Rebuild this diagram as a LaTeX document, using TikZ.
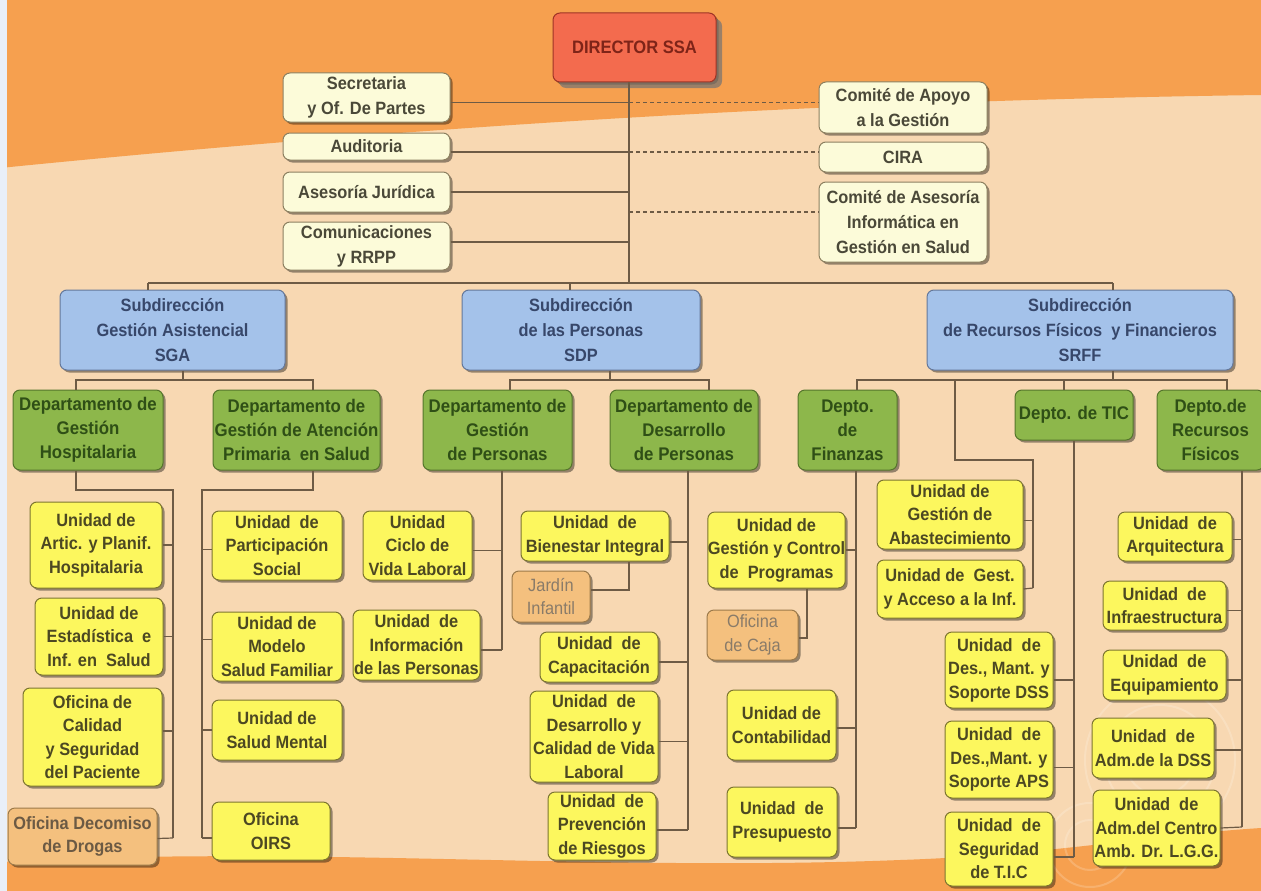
\documentclass[tikz,border=0pt]{standalone}
\usepackage{fontspec}
\setmainfont{Liberation Sans}[FakeStretch=0.92]
\usetikzlibrary{shadows}
\definecolor{bgpeach}{HTML}{F8D8B2}
\definecolor{bgorange}{HTML}{F6A04F}
\definecolor{stripblue}{HTML}{E9EFF8}
\definecolor{lineC}{HTML}{6E5B45}
\definecolor{staffF}{HTML}{FCFBD9}
\definecolor{staffD}{HTML}{8C8060}
\definecolor{staffT}{HTML}{4A4838}
\definecolor{dirF}{HTML}{F36B4E}
\definecolor{dirD}{HTML}{9E3426}
\definecolor{dirT}{HTML}{7E2418}
\definecolor{blueF}{HTML}{A4C2EA}
\definecolor{blueD}{HTML}{65789A}
\definecolor{blueT}{HTML}{37476A}
\definecolor{greenF}{HTML}{8DB74B}
\definecolor{greenD}{HTML}{55752C}
\definecolor{greenT}{HTML}{2F4F16}
\definecolor{yelF}{HTML}{FCF75E}
\definecolor{yelD}{HTML}{7C7530}
\definecolor{yelT}{HTML}{4C4822}
\definecolor{oraF}{HTML}{F4C07E}
\definecolor{oraD}{HTML}{9C7A4A}
\definecolor{oraT}{HTML}{6C5A44}
\tikzset{
  base/.style={rounded corners=7pt, draw, line width=1pt, align=center, inner sep=0pt,
    font=\bfseries\fontsize{17.8}{23.5}\selectfont,
    drop shadow={shadow xshift=2.5pt, shadow yshift=-2.5pt, fill=black, opacity=0.4}},
  staff/.style={base, fill=staffF, draw=staffD, text=staffT, font=\bfseries\fontsize{17.8}{25}\selectfont},
  director/.style={base, fill=dirF, draw=dirD, text=dirT, font=\bfseries\fontsize{18}{20}\selectfont,
    drop shadow={shadow xshift=6pt, shadow yshift=-6pt, fill=black!55, opacity=0.7}},
  subdir/.style={base, fill=blueF, draw=blueD, text=blueT, font=\bfseries\fontsize{17.8}{25}\selectfont},
  dept/.style={base, fill=greenF, draw=greenD, text=greenT, font=\bfseries\fontsize{18.3}{24}\selectfont},
  unit/.style={base, fill=yelF, draw=yelD, text=yelT},
  office/.style={base, fill=oraF, draw=oraD, text=oraT},
  officelight/.style={base, fill=oraF, draw=oraD, text=oraT!80, font=\fontsize{17.8}{23.5}\selectfont},
  conn/.style={draw=lineC, line width=1.2pt},
  dashconn/.style={draw=lineC, line width=1.2pt, dash pattern=on 4pt off 3pt}
}
\newcommand\orgbox[7]{%
  \pgfmathsetmacro\obxw{#5-#3}\pgfmathsetmacro\obxh{#6-#4}%
  \node[#1, minimum width=\obxw pt, minimum height=\obxh pt] (#2) at ({(#3+#5)/2},{(#4+#6)/2}) {#7};}
\begin{document}
\begin{tikzpicture}[x=1pt,y=-1pt]
\useasboundingbox (0,0) rectangle (1261,891);
% background
\fill[bgpeach] (0,0) rectangle (1261,891);
\fill[bgorange] (0,0) -- (1261,0) -- (1261,95) .. controls (900,100) and (500,118) .. (0,168) -- cycle;
\fill[bgorange] (0,862) .. controls (300,845) and (600,872) .. (900,860) .. controls (1050,855) and (1150,835) .. (1261,828) -- (1261,891) -- (0,891) -- cycle;
\fill[stripblue] (0,0) rectangle (7,891);
\begin{scope}[draw=white, opacity=0.18, line width=2pt]
  \draw (1160,760) circle (35);
  \draw (1160,760) circle (55);
  \draw (1160,760) circle (75);
  \draw (1090,845) circle (25);
  \draw (1090,845) circle (42);
\end{scope}

% nodes
\orgbox{director}{dir}{553}{13}{716}{82}{DIRECTOR SSA}
\orgbox{staff}{sec}{283}{73}{450}{122}{Secretaria\\y Of. De Partes}
\orgbox{staff}{aud}{283}{133}{450}{160}{Auditoria}
\orgbox{staff}{aju}{283}{172}{450}{212}{Asesoría Jurídica}
\orgbox{staff}{com}{283}{222}{450}{270}{Comunicaciones\\y RRPP}
\orgbox{staff}{cag}{819}{82}{987}{133}{Comité de Apoyo\\a la Gestión}
\orgbox{staff}{cira}{819}{142}{987}{172}{CIRA}
\orgbox{staff}{cai}{819}{182}{987}{262}{Comité de Asesoría\\Informática en\\Gestión en Salud}

\orgbox{subdir}{sga}{60}{290}{285}{370}{Subdirección\\Gestión Asistencial\\SGA}
\orgbox{subdir}{sdp}{462}{290}{700}{370}{Subdirección\\de las Personas\\SDP}
\orgbox{subdir}{srff}{927}{290}{1233}{370}{Subdirección\\de Recursos Físicos \ y Financieros\\SRFF}

\orgbox{dept}{dgh}{13}{390}{163}{470}{Departamento de\\Gestión\\Hospitalaria}
\orgbox{dept}{dap}{213}{390}{380}{470}{Departamento de\\Gestión de Atención\\Primaria \ en Salud}
\orgbox{dept}{dgp}{423}{390}{572}{470}{Departamento de\\Gestión\\de Personas}
\orgbox{dept}{ddp}{610}{390}{758}{470}{Departamento de\\Desarrollo\\de Personas}
\orgbox{dept}{dfi}{798}{390}{897}{470}{Depto.\\de\\Finanzas}
\orgbox{dept}{dtic}{1015}{390}{1133}{440}{Depto. de TIC}
\orgbox{dept}{drf}{1157}{390}{1264}{470}{Depto.de\\Recursos\\Físicos}

\orgbox{unit}{u1}{30}{502}{162}{588}{Unidad de\\Artic. y Planif.\\Hospitalaria}
\orgbox{unit}{u2}{35}{598}{163}{675}{Unidad de\\Estadística \ e\\Inf. en \ Salud}
\orgbox{unit}{u3}{23}{688}{162}{786}{Oficina de\\Calidad\\y Seguridad\\del Paciente}
\orgbox{office}{o1}{8}{808}{157}{865}{Oficina Decomiso\\de Drogas}
\orgbox{unit}{u4}{212}{511}{342}{580}{Unidad \ de\\Participación\\Social}
\orgbox{unit}{u5}{212}{612}{342}{681}{Unidad de\\Modelo\\Salud Familiar}
\orgbox{unit}{u6}{212}{700}{342}{760}{Unidad de\\Salud Mental}
\orgbox{unit}{u7}{212}{802}{330}{860}{Oficina\\OIRS}
\orgbox{unit}{u8}{363}{511}{472}{580}{Unidad\\Ciclo de\\Vida Laboral}
\orgbox{unit}{u9}{353}{610}{480}{680}{Unidad \ de\\Información\\de las Personas}
\orgbox{unit}{u10}{521}{511}{669}{561}{Unidad \ de\\Bienestar Integral}
\orgbox{officelight}{o2}{512}{571}{590}{622}{Jardín\\Infantil}
\orgbox{unit}{u11}{540}{632}{658}{682}{Unidad \ de\\Capacitación}
\orgbox{unit}{u12}{530}{691}{658}{782}{Unidad \ de\\Desarrollo y\\Calidad de Vida\\Laboral}
\orgbox{unit}{u13}{548}{792}{656}{860}{Unidad \ de\\Prevención\\de Riesgos}
\orgbox{unit}{u14}{708}{512}{845}{588}{Unidad de\\Gestión y Control\\de \ Programas}
\orgbox{officelight}{o3}{707}{610}{798}{660}{Oficina\\de Caja}
\orgbox{unit}{u15}{727}{690}{836}{760}{Unidad de\\Contabilidad}
\orgbox{unit}{u16}{727}{787}{837}{857}{Unidad \ de\\Presupuesto}
\orgbox{unit}{u17}{877}{480}{1023}{549}{Unidad de\\Gestión de\\Abastecimiento}
\orgbox{unit}{u18}{877}{560}{1023}{618}{Unidad de \ Gest.\\y Acceso a la Inf.}
\orgbox{unit}{u19}{945}{632}{1053}{708}{Unidad \ de\\Des., Mant. y\\Soporte DSS}
\orgbox{unit}{u20}{945}{721}{1053}{798}{Unidad \ de\\Des.,Mant. y\\Soporte APS}
\orgbox{unit}{u21}{945}{812}{1053}{886}{Unidad \ de\\Seguridad\\de T.I.C}
\orgbox{unit}{u22}{1118}{512}{1232}{561}{Unidad \ de\\Arquitectura}
\orgbox{unit}{u23}{1103}{581}{1226}{630}{Unidad \ de\\Infraestructura}
\orgbox{unit}{u24}{1103}{650}{1226}{700}{Unidad \ de\\Equipamiento}
\orgbox{unit}{u25}{1092}{718}{1214}{778}{Unidad \ de\\Adm.de la DSS}
\orgbox{unit}{u26}{1093}{790}{1220}{866}{Unidad \ de\\Adm.del Centro\\Amb. Dr. L.G.G.}

% coordinates
\coordinate (tk) at (629,283);
\coordinate (bL) at (148,283);
\coordinate (bR) at (1113,283);
\coordinate (sdpT) at (570,283);
\coordinate (sgaB) at (183,380);
\coordinate (sdpB) at (610,380);
\coordinate (srB) at (1113,380);
\coordinate (gh1) at (76,490);  \coordinate (gh2) at (173,490); \coordinate (gh3) at (173,838);
\coordinate (ap1) at (313,490); \coordinate (ap2) at (202,490); \coordinate (ap3) at (202,838);
\coordinate (gpX) at (510,380); \coordinate (dpX) at (709,380);
\coordinate (gp1) at (502,650);
\coordinate (dp1) at (688,830);
\coordinate (bi) at (629,590);
\coordinate (finX) at (857,380); \coordinate (ticX) at (1064,380); \coordinate (rfX) at (1227,380);
\coordinate (fi1) at (856,828);
\coordinate (gc) at (807,638);
\coordinate (ab0) at (955,380); \coordinate (ab1) at (955,460); \coordinate (ab2) at (1033,460); \coordinate (ab3) at (1033,588);
\coordinate (tc1) at (1074,857);
\coordinate (rf1) at (1242,827);

% director and staff
\draw[conn] (dir.south -| tk) -- (tk);
\draw[conn] ([yshift=-5pt]sec.east) -- ([yshift=-5pt]sec.east -| tk);
\draw[conn] ([yshift=-5.5pt]aud.east) -- ([yshift=-5.5pt]aud.east -| tk);
\draw[conn] (aju.east) -- (aju.east -| tk);
\draw[conn] ([yshift=4pt]com.east) -- ([yshift=4pt]com.east -| tk);
\draw[dashconn] ([yshift=5pt]cag.west -| tk) -- ([yshift=5pt]cag.west);
\draw[dashconn] ([yshift=5pt]cira.west -| tk) -- ([yshift=5pt]cira.west);
\draw[dashconn] ([yshift=10pt]cai.west -| tk) -- ([yshift=10pt]cai.west);

% bus to subdirecciones
\draw[conn] (bL) -- (bR);
\draw[conn] (bL) -- (sga.north -| bL);
\draw[conn] (sdpT) -- (sdp.north -| sdpT);
\draw[conn] (bR) -- (srff.north -| bR);

% SGA
\draw[conn] (sga.south -| sgaB) -- (sgaB);
\draw[conn] (dgh.north -| gh1) -- (gh1 |- sgaB) -- (ap1 |- sgaB) -- (dap.north -| ap1);
\draw[conn] (dgh.south -| gh1) -- (gh1) -- (gh2) -- (gh3);
\draw[conn] (dap.south -| ap1) -- (ap1) -- (ap2) -- (ap3);
\draw[conn] (u1.east) -- (u1.east -| gh2);
\draw[conn] (u2.east) -- (u2.east -| gh2);
\draw[conn] ([yshift=6pt]u3.east) -- ([yshift=6pt]u3.east -| gh2);
\draw[conn] ([yshift=-2pt]o1.east) -- (gh3);
\draw[conn] ([yshift=-4pt]u4.west) -- ([yshift=-4pt]u4.west -| ap2);
\draw[conn] ([yshift=7pt]u5.west) -- ([yshift=7pt]u5.west -| ap2);
\draw[conn] (u6.west) -- (u6.west -| ap2);
\draw[conn] ([yshift=-7pt]u7.west) -- (ap3);

% SDP
\draw[conn] (sdp.south -| sdpB) -- (sdpB);
\draw[conn] (dgp.north -| gpX) -- (gpX) -- (dpX) -- (ddp.north -| dpX);
\draw[conn] (dgp.south -| gp1) -- (gp1);
\draw[conn] ([yshift=-5pt]u8.east) -- ([yshift=-5pt]u8.east -| gp1);
\draw[conn] ([yshift=-5pt]u9.east) -- (gp1);
\draw[conn] (ddp.south -| dp1) -- (dp1);
\draw[conn] ([yshift=-6pt]u10.east) -- ([yshift=-6pt]u10.east -| dp1);
\draw[conn] (u10.south -| bi) -- (bi) -- (bi -| o2.east);
\draw[conn] ([yshift=-5pt]u11.east) -- ([yshift=-5pt]u11.east -| dp1);
\draw[conn] ([yshift=-5pt]u12.east) -- ([yshift=-5pt]u12.east -| dp1);
\draw[conn] ([yshift=-4pt]u13.east) -- (dp1);

% SRFF
\draw[conn] (srff.south -| srB) -- (srB);
\draw[conn] (dfi.north -| finX) -- (finX) -- (rfX) -- (drf.north -| rfX);
\draw[conn] (ticX) -- (dtic.north -| ticX);
\draw[conn] (ab0) -- (ab1) -- (ab2) -- (ab3);
\draw[conn] ([yshift=-6pt]u17.east) -- ([yshift=-6pt]u17.east -| ab2);
\draw[conn] (u18.east) -- (ab3);
\draw[conn] (dfi.south -| fi1) -- (fi1);
\draw[conn] (u14.east) -- (u14.east -| fi1);
\draw[conn] (u14.south -| gc) -- (gc) -- (gc -| o3.east);
\draw[conn] ([yshift=-3pt]u15.east) -- ([yshift=-3pt]u15.east -| fi1);
\draw[conn] ([yshift=-6pt]u16.east) -- (fi1);
\draw[conn] (dtic.south -| tc1) -- (tc1);
\draw[conn] ([yshift=-10pt]u19.east) -- ([yshift=-10pt]u19.east -| tc1);
\draw[conn] ([yshift=-8pt]u20.east) -- ([yshift=-8pt]u20.east -| tc1);
\draw[conn] ([yshift=-8pt]u21.east) -- (tc1);
\draw[conn] (drf.south -| rf1) -- (rf1);
\draw[conn] ([yshift=-3pt]u22.east) -- ([yshift=-3pt]u22.east -| rf1);
\draw[conn] ([yshift=-5pt]u23.east) -- ([yshift=-5pt]u23.east -| rf1);
\draw[conn] ([yshift=-5pt]u24.east) -- ([yshift=-5pt]u24.east -| rf1);
\draw[conn] ([yshift=-2pt]u25.east) -- ([yshift=-2pt]u25.east -| rf1);
\draw[conn] (u26.east) -- (rf1);
\end{tikzpicture}
\end{document}
